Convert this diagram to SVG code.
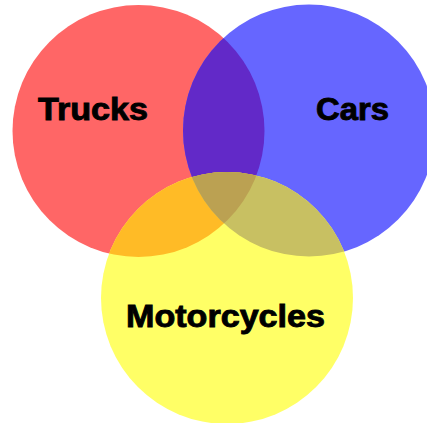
<svg xmlns="http://www.w3.org/2000/svg" width="427" height="423" viewBox="0 0 427 423">
<style>
.lbl{font-family:"Liberation Sans",Arial,sans-serif;font-weight:bold;font-size:31px;fill:#000;stroke:#000;stroke-width:0.9px}
</style>
<defs>
<clipPath id="cR"><circle cx="138.5" cy="131" r="126"/></clipPath>
<clipPath id="cB"><circle cx="309" cy="130.5" r="126"/></clipPath>
<clipPath id="cY"><circle cx="227" cy="298" r="126"/></clipPath>
</defs>
<rect width="427" height="423" fill="#fff"/>
<g id="trucks">
<circle cx="138.5" cy="131" r="126" fill="#ff6666"/>
</g>
<g id="cars">
<circle cx="309" cy="130.5" r="126" fill="#6666ff"/>
</g>
<g id="motorcycles">
<circle cx="227" cy="298" r="126" fill="#ffff66"/>
</g>
<g id="overlaps">
<g clip-path="url(#cR)"><circle cx="309" cy="130.5" r="126" fill="#6229c8"/></g>
<g clip-path="url(#cR)"><circle cx="227" cy="298" r="126" fill="#ffbb26"/></g>
<g clip-path="url(#cB)"><circle cx="227" cy="298" r="126" fill="#c8c062"/></g>
<g clip-path="url(#cR)"><g clip-path="url(#cB)"><circle cx="227" cy="298" r="126" fill="#bba152"/></g></g>
</g>
<g id="labels">
<text class="lbl" x="38" y="120" textLength="110" lengthAdjust="spacingAndGlyphs">Trucks</text>
<text class="lbl" x="316" y="120" textLength="73" lengthAdjust="spacingAndGlyphs">Cars</text>
<text class="lbl" x="126" y="327" textLength="199" lengthAdjust="spacingAndGlyphs">Motorcycles</text>
</g>
</svg>
